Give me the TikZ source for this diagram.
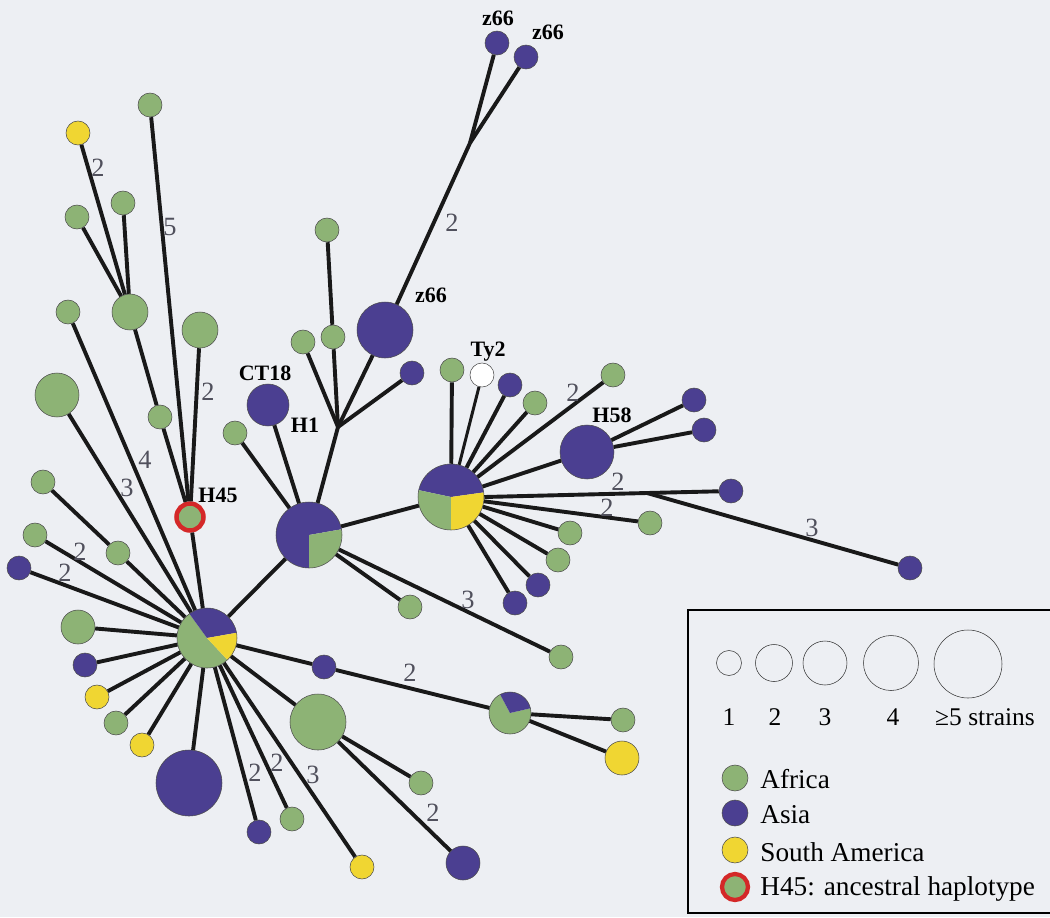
\documentclass[tikz,border=0pt]{standalone}
\usepackage{fontspec}
\setmainfont{Liberation Serif}
\usepackage{tikz}
\usetikzlibrary{calc}
\definecolor{paper}{RGB}{237,239,243}
\definecolor{africa}{RGB}{141,179,117}
\definecolor{asia}{RGB}{75,63,145}
\definecolor{samerica}{RGB}{240,214,50}
\definecolor{ancred}{RGB}{212,40,40}
\definecolor{wtgray}{RGB}{80,80,92}
\def\pieslice(#1)(#2:#3:#4)#5{\fill[#5] (#1) -- ++(#2:#4) arc (#2:#3:#4) -- cycle;}
\tikzset{
	hap/.style={circle, draw=black!70, line width=0.3pt, inner sep=0pt},
	s1/.style={hap, minimum size=4.8mm},
	s2/.style={hap, minimum size=6.8mm},
	s3/.style={hap, minimum size=8.4mm},
	s4/.style={hap, minimum size=11.2mm},
	s5/.style={hap, minimum size=13.2mm},
	afr/.style={fill=africa},
	asi/.style={fill=asia},
	sam/.style={fill=samerica},
	anc/.style={circle, draw=ancred, line width=0.9mm, fill=africa, inner sep=0pt, minimum size=5.4mm},
	edge/.style={line width=0.78mm, black!90},
	wt/.style={text=wtgray, inner sep=0pt, font=\fontsize{15}{15}\selectfont},
	tag/.style={inner sep=0pt, font=\bfseries\fontsize{12.5}{13}\selectfont},
	lgd/.style={inner sep=0pt, font=\fontsize{14.5}{15}\selectfont},
	lgdb/.style={inner sep=0pt, font=\fontsize{15.5}{16}\selectfont}
}
\begin{document}
\begin{tikzpicture}[x=0.2mm, y=-0.2mm]
			%%%%% START %%%%%
			\fill[paper] (0,0) rectangle (1050,917);
			\useasboundingbox (0,0) rectangle (1050,917);
			
			% pie hubs
			\coordinate (cA) at (207,638);
			\pieslice(cA)(126:313:6mm){africa}
			\pieslice(cA)(10:126:6mm){asia}
			\pieslice(cA)(-47:10:6mm){samerica}
			\node[hap, minimum size=12mm] (hA) at (cA) {};
			
			\coordinate (cB) at (309,535);
			\pieslice(cB)(10:270:6.6mm){asia}
			\pieslice(cB)(-90:10:6.6mm){africa}
			\node[hap, minimum size=13.2mm] (hB) at (cB) {};
			
			\coordinate (cC) at (451,497);
			\pieslice(cC)(8:168:6.6mm){asia}
			\pieslice(cC)(168:270:6.6mm){africa}
			\pieslice(cC)(-90:8:6.6mm){samerica}
			\node[hap, minimum size=13.2mm] (hC) at (cC) {};
			
			\coordinate (cD) at (510,713);
			\pieslice(cD)(118:373:4.2mm){africa}
			\pieslice(cD)(13:118:4.2mm){asia}
			\node[hap, minimum size=8.4mm] (hD) at (cD) {};
			
			% ancestral haplotype and its branch
			\node[anc] (h45) at (190,517) {};
			\node[s1, afr] (h1) at (160,417) {};
			\node[s3, afr, minimum size=7.2mm] (h1a) at (130,312) {};
			\node[s1, sam] (h1b) at (78,133) {};
			\node[s1, afr] (h1c) at (77,217) {};
			\node[s1, afr] (h1d) at (123,203) {};
			\node[s1, afr] (h2) at (150,105) {};
			\node[s2, afr, minimum size=7.2mm] (h3) at (200,330) {};
			
			% leaves of hub A
			\node[s1, afr] (a1) at (68,312) {};
			\node[s4, afr, minimum size=8.8mm] (a2) at (57,395) {};
			\node[s1, afr] (a3) at (118,553) {};
			\node[s1, afr] (a3b) at (43,482) {};
			\node[s1, afr] (a4) at (35,535) {};
			\node[s1, asi] (a5) at (19,568) {};
			\node[s2, afr] (a6) at (78,627) {};
			\node[s1, asi] (a7) at (85,665) {};
			\node[s1, sam] (a8) at (97,697) {};
			\node[s1, afr] (a9) at (116,723) {};
			\node[s1, sam] (a10) at (142,745) {};
			\node[s5, asi] (a11) at (189,783) {};
			\node[s1, asi] (a12) at (259,832) {};
			\node[s1, afr] (a13) at (292,819) {};
			\node[s1, sam] (a14) at (362,867) {};
			\node[s4, afr] (a15) at (318,722) {};
			\node[s1, afr] (a15a) at (421,783) {};
			\node[s2, asi] (a15b) at (463,863) {};
			\node[s1, asi] (a16) at (324,667) {};
			\node[s1, afr] (d1) at (623,720) {};
			\node[s2, sam] (d2) at (622,758) {};
			
			% leaves of hub B
			\coordinate (j1) at (338,427);
			\coordinate (j2) at (470,143);
			\node[s1, afr] (b1) at (235,433) {};
			\node[s3, asi] (b2) at (268,405) {};
			\node[s1, afr] (b3) at (303,342) {};
			\node[s1, afr] (b4) at (333,337) {};
			\node[s1, afr] (b4a) at (327,230) {};
			\node[s4, asi] (b5) at (385,330) {};
			\node[s1, asi] (b5a) at (497,43) {};
			\node[s1, asi] (b5b) at (526,57) {};
			\node[s1, asi] (b6) at (412,373) {};
			\node[s1, afr] (b7) at (410,607) {};
			\node[s1, afr] (b8) at (561,657) {};
			
			% leaves of hub C
			\coordinate (j3) at (647,493);
			\node[s1, afr] (c1) at (452,370) {};
			\node[s1, fill=white] (c2) at (482,375) {};
			\node[s1, asi] (c3) at (510,385) {};
			\node[s1, afr] (c4) at (535,403) {};
			\node[s1, afr] (c5) at (613,375) {};
			\node[s4, asi, minimum size=10.8mm] (c6) at (587,452) {};
			\node[s1, asi] (c6a) at (694,400) {};
			\node[s1, asi] (c6b) at (704,430) {};
			\node[s1, asi] (c7) at (731,491) {};
			\node[s1, asi] (c8) at (910,568) {};
			\node[s1, afr] (c9) at (650,523) {};
			\node[s1, afr] (c10) at (570,533) {};
			\node[s1, afr] (c11) at (558,560) {};
			\node[s1, asi] (c12) at (538,585) {};
			\node[s1, asi] (c13) at (515,603) {};
			
			% connectors
			\draw[edge] (hA) -- (hB);
			\draw[edge] (hB) -- (hC);
			\draw[edge] (hA) -- (h45);
			\draw[edge] (h45) -- (h1);
			\draw[edge] (h1) -- (h1a);
			\draw[edge] (h1a) -- (h1b);
			\draw[edge] (h1a) -- (h1c);
			\draw[edge] (h1a) -- (h1d);
			\draw[edge] (h45) -- (h2);
			\draw[edge] (h45) -- (h3);
			
			\draw[edge] (hA) -- (a1);
			\draw[edge] (hA) -- (a2);
			\draw[edge] (hA) -- (a3);
			\draw[edge] (a3) -- (a3b);
			\draw[edge] (hA) -- (a4);
			\draw[edge] (hA) -- (a5);
			\draw[edge] (hA) -- (a6);
			\draw[edge] (hA) -- (a7);
			\draw[edge] (hA) -- (a8);
			\draw[edge] (hA) -- (a9);
			\draw[edge] (hA) -- (a10);
			\draw[edge] (hA) -- (a11);
			\draw[edge] (hA) -- (a12);
			\draw[edge] (hA) -- (a13);
			\draw[edge] (hA) -- (a14);
			\draw[edge] (hA) -- (a15);
			\draw[edge] (a15) -- (a15a);
			\draw[edge] (a15) -- (a15b);
			\draw[edge] (hA) -- (a16);
			\draw[edge] (a16) -- (hD);
			\draw[edge] (hD) -- (d1);
			\draw[edge] (hD) -- (d2);
			
			\draw[edge] (hB) -- (b1);
			\draw[edge] (hB) -- (b2);
			\draw[edge] (hB) -- (j1);
			\draw[edge] (j1) -- (b3);
			\draw[edge] (j1) -- (b4);
			\draw[edge] (b4) -- (b4a);
			\draw[edge] (j1) -- (b5);
			\draw[edge] (j1) -- (b6);
			\draw[edge] (b5) -- (j2);
			\draw[edge] (j2) -- (b5a);
			\draw[edge] (j2) -- (b5b);
			\draw[edge] (hB) -- (b7);
			\draw[edge] (hB) -- (b8);
			
			\draw[edge] (hC) -- (c1);
			\draw[edge, line width=0.6mm] (hC) -- (c2);
			\draw[edge] (hC) -- (c3);
			\draw[edge] (hC) -- (c4);
			\draw[edge] (hC) -- (c5);
			\draw[edge] (hC) -- (c6);
			\draw[edge] (c6) -- (c6a);
			\draw[edge] (c6) -- (c6b);
			\draw[edge] (hC.east) -- (j3);
			\draw[edge] (j3) -- (c7);
			\draw[edge] (j3) -- (c8);
			\draw[edge] (hC) -- (c9);
			\draw[edge] (hC) -- (c10);
			\draw[edge] (hC) -- (c11);
			\draw[edge] (hC) -- (c12);
			\draw[edge] (hC) -- (c13);
			
			% mutation counts
			\node[wt] (w1) at (98,168) {2};
			\node[wt] (w2) at (170,227) {5};
			\node[wt] (w3) at (208,392) {2};
			\node[wt] (w4) at (145,460) {4};
			\node[wt] (w5) at (127,488) {3};
			\node[wt] (w6) at (80,552) {2};
			\node[wt] (w7) at (65,573) {2};
			\node[wt] (w8) at (255,773) {2};
			\node[wt] (w9) at (277,763) {2};
			\node[wt] (w10) at (313,775) {3};
			\node[wt] (w11) at (433,813) {2};
			\node[wt] (w12) at (410,673) {2};
			\node[wt] (w13) at (468,600) {3};
			\node[wt] (w14) at (452,223) {2};
			\node[wt] (w15) at (573,393) {2};
			\node[wt] (w16) at (618,482) {2};
			\node[wt] (w17) at (607,508) {2};
			\node[wt] (w18) at (812,528) {3};
			
			% haplotype names
			\node[tag] (tz1) at (498,18) {z66};
			\node[tag] (tz2) at (548,32) {z66};
			\node[tag] (tz3) at (431,295) {z66};
			\node[tag] (tct) at (265,373) {CT18};
			\node[tag] (th1) at (305,425) {H1};
			\node[tag] (th45) at (218,495) {H45};
			\node[tag] (tty) at (488,352) {Ty2};
			\node[tag] (th58) at (612,415) {H58};
			
			% legend
			\draw[line width=0.45mm] (1050,610) -- (688,610) -- (688,913) -- (1050,913);
			\node[hap, draw=black!80, minimum size=5mm] (k1) at (729,663) {};
			\node[hap, draw=black!80, minimum size=7.4mm] (k2) at (774,663) {};
			\node[hap, draw=black!80, minimum size=8.8mm] (k3) at (825,663) {};
			\node[hap, draw=black!80, minimum size=11mm] (k4) at (891,663) {};
			\node[hap, draw=black!80, minimum size=13.6mm] (k5) at (968,664) {};
			\node[lgd] (n1) at (729,717) {1};
			\node[lgd] (n2) at (775,717) {2};
			\node[lgd] (n3) at (825,717) {3};
			\node[lgd] (n4) at (893,717) {4};
			\node[lgd] (n5) at (985,717) {≥5 strains};
			
			\node[s1, afr, minimum size=5.2mm] (g1) at (735,778) {};
			\node[s1, asi, minimum size=5.2mm] (g2) at (735,813) {};
			\node[s1, sam, minimum size=5.2mm] (g3) at (735,850) {};
			\node[anc, minimum size=5.2mm, line width=0.85mm] (g4) at (735,887) {};
			\node[lgdb, anchor=west] (e1) at (760,779) {Africa};
			\node[lgdb, anchor=west] (e2) at (760,815) {Asia};
			\node[lgdb, anchor=west] (e3) at (760,852) {South America};
			\node[lgdb, anchor=west] (e4) at (760,889) {H45: ancestral haplotype};
			%%%%% END %%%%%
\end{tikzpicture}
\end{document}
